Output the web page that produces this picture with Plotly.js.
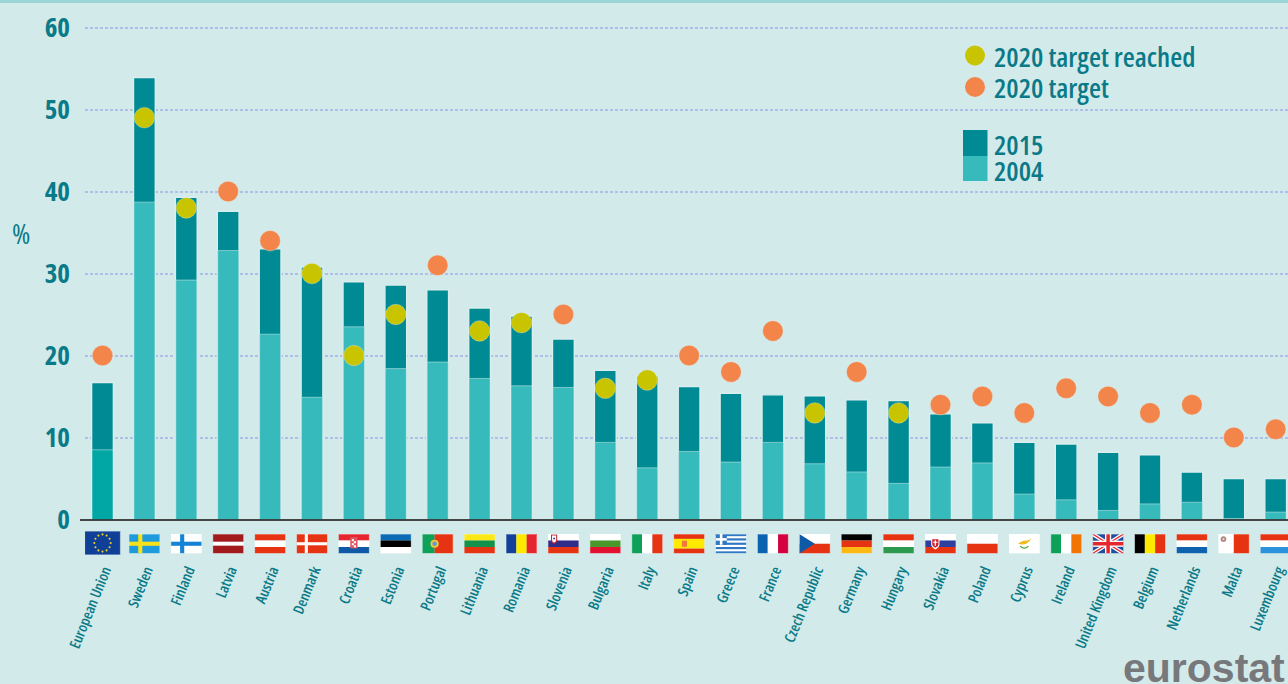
<!DOCTYPE html>
<html><head><meta charset="utf-8">
<script src="https://cdn.plot.ly/plotly-3.0.1.min.js"></script>
<style>html,body{margin:0;padding:0;background:#d3eaea;overflow:hidden}
.xtick text,.ytick text,.annotation text{font-stretch:75%}</style>
</head><body><div id="chart" style="width:1288px;height:684px"></div>
<script>
const countries = ["European Union","Sweden","Finland","Latvia","Austria","Denmark","Croatia","Estonia","Portugal","Lithuania","Romania","Slovenia","Bulgaria","Italy","Spain","Greece","France","Czech Republic","Germany","Hungary","Slovakia","Poland","Cyprus","Ireland","United Kingdom","Belgium","Netherlands","Malta","Luxembourg"];
const share2015 = [16.7,53.9,39.3,37.6,33.0,30.8,29.0,28.6,28.0,25.8,24.8,22.0,18.2,17.5,16.2,15.4,15.2,15.1,14.6,14.5,12.9,11.8,9.4,9.2,8.2,7.9,5.8,5.0,5.0];
const share2004 = [8.5,38.7,29.2,32.8,22.6,14.9,23.5,18.4,19.2,17.2,16.3,16.1,9.4,6.3,8.3,7.0,9.4,6.8,5.8,4.4,6.4,6.9,3.1,2.4,1.1,1.9,2.1,0.1,0.9];
const targetOpen = [20,null,null,40,34,null,null,null,31,null,null,25,null,null,20,18,23,null,18,null,14,15,13,16,15,13,14,10,11];
const targetReached = [null,49,38,null,null,30,20,25,null,23,24,null,16,17,null,null,null,13,null,13,null,null,null,null,null,null,null,null,null];
const yTicks = [0,10,20,30,40,50,60];

const W=1288,H=684,L=85,T=4,B=520,Z=519.5,S=8.2;
const px=x=>(x-L)/(W-L), py=y=>(B-y)/(B-T);
const INK="#0b7a88", BG="#d3eaea", C15="#008b94", C04="#36babc", CEU="#00a7a5", YEL="#c9c400", ORG="#f4854a";
const FONT="'Open Sans',sans-serif";

const R="#e63312",Wh="#ffffff";
const rect=(x,y,w,h,c)=>`<rect x="${x}" y="${y}" width="${w}" height="${h}" fill="${c}"/>`;
const hs=(cs,ws)=>{ws=ws||cs.map(()=>1);const s=ws.reduce((a,b)=>a+b);let y=0,o="";cs.forEach((c,i)=>{const h=19*ws[i]/s;o+=rect(0,y,30,h+.05,c);y+=h});return o};
const vs=(cs,ws)=>{ws=ws||cs.map(()=>1);const s=ws.reduce((a,b)=>a+b);let x=0,o="";cs.forEach((c,i)=>{const w=30*ws[i]/s;o+=rect(x,0,w+.05,19,c);x+=w});return o};
const cross=(bg,fg)=>rect(0,0,30,19,bg)+rect(9,0,4,19,fg)+rect(0,7.5,30,4,fg);
function euStars(){let o=rect(0,0,30,19,"#0f3f96");for(let i=0;i<12;i++){const a=i*Math.PI/6;o+=`<circle cx="${15+6.8*Math.cos(a)}" cy="${9.5+6.8*Math.sin(a)}" r="0.85" fill="#f5d81e"/>`}return o}
const flags=[
 euStars(),
 cross("#1e9bdc","#f7e11b"),
 cross(Wh,"#1383d5"),
 hs(["#a31a1d",Wh,"#a31a1d"],[2,1,2]),
 hs([R,Wh,R]),
 rect(0,0,30,19,R)+rect(8,0,3,19,Wh)+rect(0,8,30,3,Wh),
 hs(["#e6262e",Wh,"#0f5aa6"])+rect(11.5,3,7,11,"#e05560")+rect(13,5,2,2,Wh)+rect(15,7,2,2,Wh)+rect(13,9,2,2,Wh)+rect(15,11,2,2,Wh),
 hs(["#0b6cb5","#000000",Wh]),
 vs(["#0fa05a",R],[2,3])+`<circle cx="12" cy="9.5" r="4" fill="#f3c83a"/><circle cx="12" cy="9.5" r="2.2" fill="#5d9bd1"/>`,
 hs(["#fbe816","#13904a",R]),
 vs(["#123f9a","#fde800","#e6262e"]),
 hs([Wh,"#2f2d88",R])+`<path d="M3.500 1h5v4.500q0 2.500-2.500 3.500q-2.500-1-2.500-3.500z" fill="#ffffff" stroke="#c8202a" stroke-width="1"/><path d="M4.800 5L6 3L7.200 5z" fill="#2f2d88"/>`,
 hs([Wh,"#4a972c","#e2112f"]),
 vs(["#0ca157",Wh,R]),
 hs([R,"#fdea00",R],[1,2,1])+rect(8,6.500,5,6,"#ef7a3a"),
 rect(0,0,30,19,Wh)+[0,2,4,6,8].map(i=>rect(0,i*19/9,30,19/9,"#2f78c4")).join("")+rect(0,0,11,10.500,"#2f78c4")+rect(4.200,0,2.500,10.500,Wh)+rect(0,4,11,2.500,Wh),
 vs(["#0b62b0",Wh,"#d5003f"]),
 hs([Wh,R])+`<path d="M0 0L15 9.500L0 19z" fill="#0f5aa6"/>`,
 hs(["#000000",R,"#fdb913"]),
 hs([R,Wh,"#2c9a4c"]),
 hs([Wh,"#2f3f9f",R])+`<path d="M6 4h8v6q0 3-4 5q-4-2-4-5z" fill="#fff"/><path d="M7 5h6v5q0 2-3 3.500q-3-1.500-3-3.500z" fill="#d5202c"/>`+rect(9.400,6,1.200,5.500,Wh)+rect(8,7.500,4,1.100,Wh),
 hs([Wh,R]),
 rect(0,0,30,19,Wh)+`<path d="M9 9.500Q14 6 17 6.500Q20 6 22 4Q20 8 17 9.500Q13 11 9 9.500z" fill="#f1bb1c"/><path d="M11 12Q15 15.500 19 12" stroke="#5ca842" stroke-width="1.200" fill="none"/>`,
 vs(["#0ca157",Wh,"#f27405"]),
 rect(0,0,30,19,"#1f4d9c")+`<path d="M0 0L30 19M30 0L0 19" stroke="#fff" stroke-width="3.800"/><path d="M0 0L30 19M30 0L0 19" stroke="#e6262e" stroke-width="1.300"/>`+rect(12,0,6,19,Wh)+rect(0,6.500,30,6,Wh)+rect(13.300,0,3.400,19,"#e6262e")+rect(0,7.800,30,3.400,"#e6262e"),
 vs(["#000000","#fdea00",R]),
 hs([R,Wh,"#0f62ae"]),
 vs([Wh,R])+`<circle cx="5" cy="5" r="2.700" fill="#b08a82"/><circle cx="5" cy="5" r="1" fill="#ead8d0"/>`,
 hs([R,Wh,"#2c92dc"])
];
const images=flags.map((body,i)=>{
  const eu=i===0;
  const svg=`<svg xmlns="http://www.w3.org/2000/svg" width="60" height="38" viewBox="0 0 30 19" preserveAspectRatio="none">${body}<rect x=".25" y=".25" width="29.5" height="18.5" fill="none" stroke="#ffffff" stroke-opacity=".55" stroke-width=".5"/></svg>`;
  const w=eu?36:31,h=eu?24:19.500,top=eu?531:534;
  return {source:"data:image/svg+xml;charset=utf-8,"+encodeURIComponent(svg),xref:"x",yref:"paper",x:i,y:py(top),sizex:w/41.9,sizey:h/(B-T),xanchor:"center",yanchor:"top",sizing:"stretch",layer:"above"};
});

const halo="rgba(223,241,239,0.45)";
const traces=[
 {type:"bar",name:"2015",x:countries,y:share2015,width:0.52,marker:{color:C15,line:{color:"#d9eeed",width:1.4}},hoverinfo:"x+y"},
 {type:"bar",name:"2004",x:countries,y:share2004,width:0.5,marker:{color:countries.map((c,i)=>i===0?CEU:C04),line:{color:"#d9eeed",width:0.5}},hoverinfo:"x+y"},
 {type:"scatter",mode:"markers",name:"2020 target",x:countries,y:targetOpen,marker:{color:ORG,size:20.5,line:{color:halo,width:0.8}},cliponaxis:false},
 {type:"scatter",mode:"markers",name:"2020 target reached",x:countries,y:targetReached,marker:{color:YEL,size:20.5,line:{color:halo,width:0.8}},cliponaxis:false}
];
const ann=(x,y,text,size,opt)=>Object.assign({xref:"paper",yref:"paper",x:px(x),y:py(y),text,showarrow:false,xanchor:"left",yanchor:"middle",align:"left",font:{family:FONT,size,color:INK,weight:600},borderpad:0},opt||{});
const layout={
 width:W,height:H,margin:{l:L,r:0,t:T,b:H-B,pad:0},
 paper_bgcolor:BG,plot_bgcolor:BG,showlegend:false,barmode:"overlay",
 xaxis:{type:"category",categoryorder:"array",categoryarray:countries,range:[(L-102.5)/41.9,(W-102.5)/41.9],tickmode:"array",tickvals:countries,ticktext:countries,tickangle:-68,ticks:"",ticklabelstandoff:38,ticklabelshift:2,tickfont:{family:FONT,size:14.8,color:INK,weight:600},showgrid:false,zeroline:false,showline:false,automargin:false},
 yaxis:{range:[-(B-Z)/S,(Z-T)/S],tickmode:"array",tickvals:yTicks,ticktext:yTicks.map(String),ticks:"",ticklabelstandoff:14,tickfont:{family:FONT,size:27,color:INK,weight:700},showgrid:true,gridcolor:"#b0bfe6",griddash:"3px,2px",gridwidth:2,zeroline:false,showline:false,automargin:false},
 images,
 shapes:[
  {type:"rect",xref:"paper",yref:"paper",x0:px(0),x1:px(W),y0:py(0),y1:py(3),fillcolor:"#9dd4d6",line:{width:0},layer:"above"},
  {type:"line",xref:"paper",yref:"paper",x0:px(80),x1:px(W),y0:py(520),y1:py(520),line:{color:"#111111",width:1.6},layer:"above"},
  {type:"circle",xref:"paper",yref:"paper",x0:px(965),x1:px(985),y0:py(45.500),y1:py(65.500),fillcolor:YEL,line:{width:0},layer:"above"},
  {type:"circle",xref:"paper",yref:"paper",x0:px(965),x1:px(985),y0:py(77),y1:py(97),fillcolor:ORG,line:{width:0},layer:"above"},
  {type:"rect",xref:"paper",yref:"paper",x0:px(963),x1:px(987.500),y0:py(130),y1:py(156),fillcolor:C15,line:{width:0},layer:"above"},
  {type:"rect",xref:"paper",yref:"paper",x0:px(963),x1:px(987.500),y0:py(156),y1:py(181),fillcolor:C04,line:{width:0},layer:"above"}
 ],
 annotations:[
  ann(993,56,"2020 target reached",27.6),
  ann(993,87,"2020 target",27.6),
  ann(993,144,"2015",27.6),
  ann(993,170,"2004",27.6),
  ann(11,233,"%",28,{font:{family:FONT,size:28,color:INK,weight:400}}),
  ann(1122,668,"eurostat",41,{font:{family:"'Liberation Sans',Arial,sans-serif",size:41,color:"#77787b",weight:700}})
 ]
};
Plotly.newPlot("chart",traces,layout,{displayModeBar:false,responsive:false,staticPlot:true});
</script></body></html>
